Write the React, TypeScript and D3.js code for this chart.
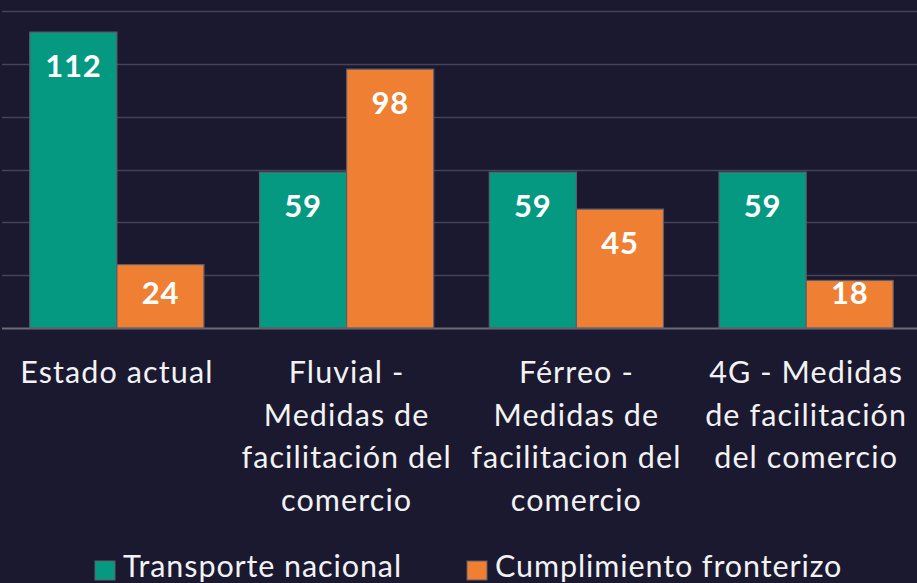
import React from "react";
import * as d3 from "d3";

const categories: string[][] = [
  ["Estado actual"],
  ["Fluvial -", "Medidas de", "facilitación del", "comercio"],
  ["Férreo -", "Medidas de", "facilitacion del", "comercio"],
  ["4G - Medidas", "de facilitación", "del comercio"],
];
const seriesNames = ["Transporte nacional", "Cumplimiento fronterizo"];
const transporteNacional = [112, 59, 59, 59];
const cumplimientoFronterizo = [24, 98, 45, 18];
const yTicks = [0, 20, 40, 60, 80, 100, 120];
const colors = ["#069982", "#ee7f33"];

const W = 917;
const H = 583;
const FONT = "Lato, 'Open Sans', sans-serif";

export default function App() {
  const idx = categories.map((_, i) => String(i));
  const x = d3
    .scaleBand<string>()
    .domain(idx)
    .range([2, 921])
    .paddingInner(0.242)
    .paddingOuter(0.121);
  const xs = d3.scaleBand<number>().domain([0, 1]).range([0, x.bandwidth()]);
  const y = d3.scaleLinear().domain([0, 120]).range([328, 11]);
  const series = [transporteNacional, cumplimientoFronterizo];

  return (
    <svg
      width={W}
      height={H}
      style={{ position: "absolute", left: 0, top: 0, display: "block" }}
      fontFamily={FONT}
    >
      <rect x={0} y={0} width={W} height={H} fill="#1b1930" />
      {yTicks.map((t) => (
        <line
          key={t}
          x1={2}
          x2={W}
          y1={Math.round(y(t)) + 0.5}
          y2={Math.round(y(t)) + 0.5}
          stroke={t === 0 ? "#6c6b78" : "#45435a"}
          strokeWidth={t === 0 ? 2 : 1.5}
        />
      ))}
      {series.map((vals, s) =>
        vals.map((v, i) => {
          const bx = (x(String(i)) as number) + (xs(s) as number);
          const top = y(v);
          const bw = xs.bandwidth();
          const base = y(0);
          const ty = Math.min(top + 45, base - 24);
          return (
            <g key={`${s}-${i}`}>
              <rect
                x={bx}
                y={top}
                width={bw}
                height={base - top}
                fill={colors[s]}
                stroke="#5e5e6a"
                strokeWidth={1.2}
              />
              <text
                x={bx + bw / 2}
                y={ty}
                textAnchor="middle"
                fill="#ffffff"
                fontWeight={700}
                fontSize={31}
                letterSpacing={0.8}
              >
                {v}
              </text>
            </g>
          );
        })
      )}
      {categories.map((lines, i) => {
        const cx = (x(String(i)) as number) + x.bandwidth() / 2;
        return (
          <text
            key={i}
            x={cx}
            y={383}
            textAnchor="middle"
            fill="#f2f2f2"
            fontSize={30.5}
            letterSpacing={1.1}
          >
            {lines.map((l, k) => (
              <tspan key={k} x={cx} y={383 + k * 42.7}>
                {l}
              </tspan>
            ))}
          </text>
        );
      })}
      {seriesNames.map((name, s) => {
        const lx = [95, 467][s];
        return (
          <g key={name}>
            <rect
              x={lx}
              y={561}
              width={20}
              height={19}
              fill={colors[s]}
              stroke="#5e5e6a"
              strokeWidth={1}
            />
            <text
              x={lx + 28}
              y={577}
              fill="#f2f2f2"
              fontSize={30.5}
              letterSpacing={0.9}
            >
              {name}
            </text>
          </g>
        );
      })}
    </svg>
  );
}
